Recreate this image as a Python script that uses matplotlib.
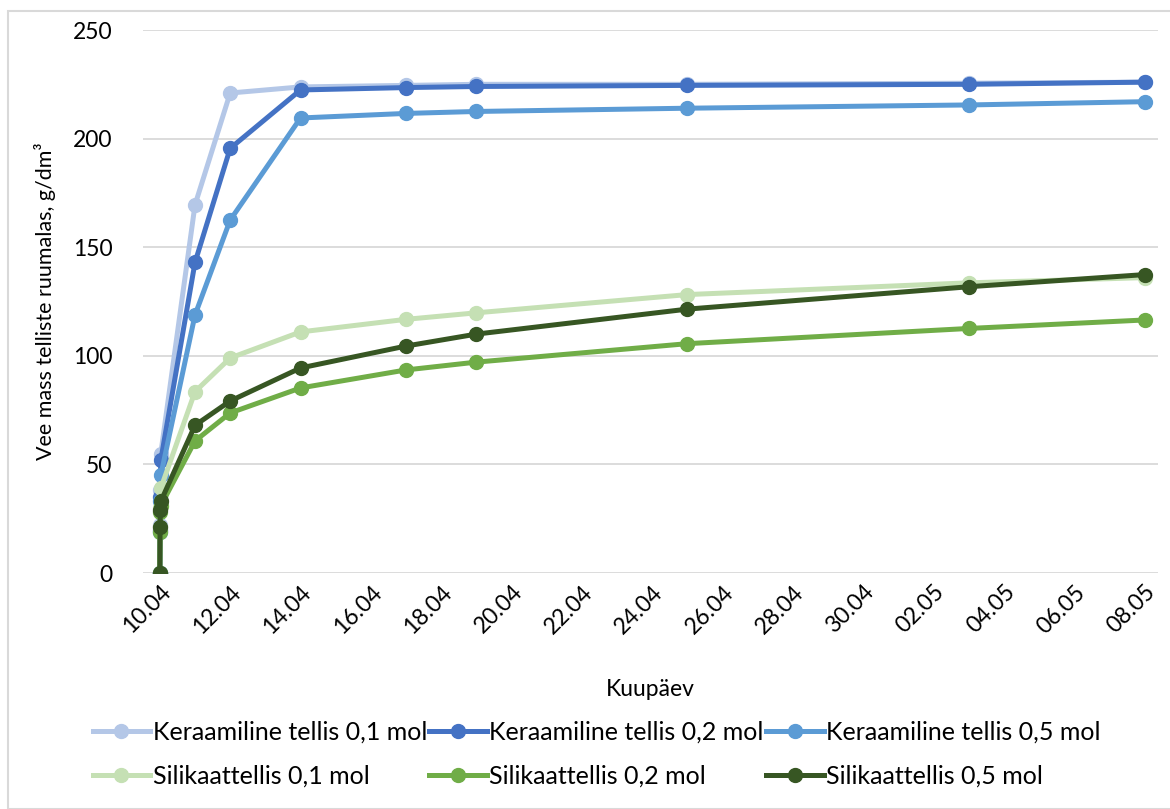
import matplotlib
matplotlib.use("Agg")
import matplotlib.pyplot as plt
import matplotlib.dates as mdates
import pandas as pd
from matplotlib.patches import Rectangle

plt.rcParams['font.family'] = ['Lato', 'DejaVu Sans']

# measurement times (first four on 10.04, minutes apart)
times = pd.to_datetime([
    "2019-04-10 00:00", "2019-04-10 00:10", "2019-04-10 00:20", "2019-04-10 00:40",
    "2019-04-11 00:00", "2019-04-12 00:00", "2019-04-14 00:00", "2019-04-17 00:00",
    "2019-04-19 00:00", "2019-04-25 00:00", "2019-05-03 00:00", "2019-05-08 00:00",
])

ker_01 = [0, 22, 38, 55, 169.5, 221, 223.8, 224.5, 225, 225, 225.5, 226]
ker_02 = [0, 20, 35, 52, 143, 195.5, 222.4, 223.5, 224, 224.5, 225, 226]
ker_05 = [0, 19, 33, 45, 118.8, 162.5, 209.5, 211.6, 212.5, 214, 215.5, 217]
sil_01 = [0, 21, 30, 39, 83.5, 99, 111, 116.8, 119.8, 128.2, 133.6, 136]
sil_02 = [0, 19, 28, 31, 60.8, 73.7, 85.2, 93.5, 97.1, 105.6, 112.6, 116.5]
sil_05 = [0, 21, 29, 33, 68, 79.2, 94.4, 104.5, 110, 121.5, 131.8, 137.4]

labels = ["Keraamiline tellis 0,1 mol", "Keraamiline tellis 0,2 mol",
          "Keraamiline tellis 0,5 mol", "Silikaattellis 0,1 mol",
          "Silikaattellis 0,2 mol", "Silikaattellis 0,5 mol"]
colors = ["#B4C7E7", "#4472C4", "#5B9BD5", "#C5E0B4", "#70AD47", "#375623"]
series = [ker_01, ker_02, ker_05, sil_01, sil_02, sil_05]

fig = plt.figure(figsize=(11.7, 8.09), dpi=100)
ax = fig.add_axes([0.1222, 0.2917, 0.8675, 0.6712])

lines = []
for vals, lab, col in zip(series, labels, colors):
    l, = ax.plot(times, vals, color=col, lw=3.6, marker='o', ms=10, label=lab)
    lines.append(l)

ax.set_ylim(0, 250)
ax.set_yticks(range(0, 251, 50))
ax.set_xlim(pd.Timestamp("2019-04-09 12:30"), pd.Timestamp("2019-05-08 09:00"))
ticks = pd.date_range("2019-04-10", "2019-05-08", freq="2D")
ax.set_xticks(ticks)
ax.xaxis.set_major_formatter(mdates.DateFormatter("%d.%m"))
plt.setp(ax.get_xticklabels(), rotation=45, ha='right', rotation_mode='anchor')

ax.grid(axis='y', color='#D9D9D9', lw=1.3)
ax.set_axisbelow(True)
for s in ax.spines.values():
    s.set_visible(False)
ax.tick_params(length=0, labelsize=16.5, colors='black')
ax.tick_params(axis='y', pad=22)
ax.tick_params(axis='x', pad=6)

ax.set_ylabel("Vee mass telliste ruumalas, g/dm³", fontsize=15.5, labelpad=12)
ax.set_xlabel("Kuupäev", fontsize=16.5, labelpad=30)

# row-wise legend order
order = [0, 3, 1, 4, 2, 5]
fig.legend([lines[i] for i in order], [labels[i] for i in order],
           loc='center', bbox_to_anchor=(0.51, 0.068), ncol=3, frameon=False,
           fontsize=18, handlelength=2.3, handletextpad=0.1, columnspacing=0.1,
           labelspacing=0.85)

fig.patches.append(Rectangle((0.007, 0.0), 1.0, 0.987, transform=fig.transFigure,
                             fill=False, edgecolor='#D9D9D9', lw=1.5))

fig.savefig("out.png", dpi=100)
